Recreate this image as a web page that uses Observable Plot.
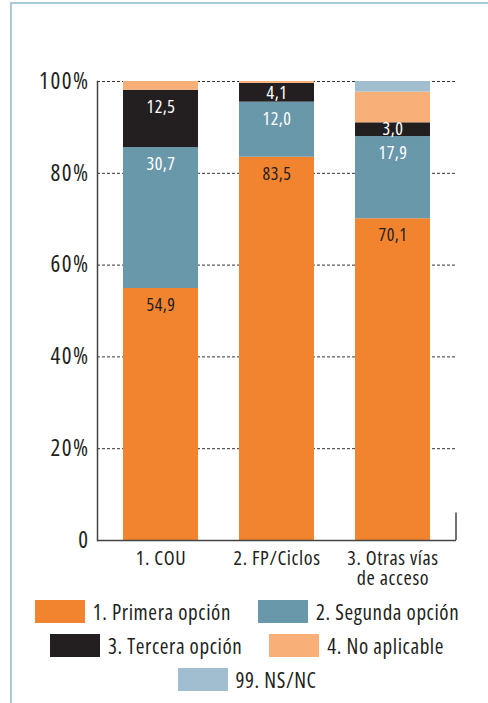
<!DOCTYPE html>
<html>
<head>
<meta charset="utf-8">
<script src="https://cdn.jsdelivr.net/npm/d3@7"></script>
<script src="https://cdn.jsdelivr.net/npm/@observablehq/plot@0.6"></script>
<style>
  html, body { margin: 0; padding: 0; background: #fff; }
  body { width: 488px; height: 703px; overflow: hidden; position: relative;
         font-family: 'Open Sans', sans-serif; font-stretch: 75%; color: #231F20; }
  #frameTop { position: absolute; left: 10px; top: 2px; width: 478px; height: 2px; background: #A9CADA; }
  #frameLeft { position: absolute; left: 10px; top: 2px; width: 2px; height: 701px; background: #A9CADA; }
  #chart { position: absolute; left: 0; top: 0; }
  #legend { position: absolute; left: 6px; top: 600px; width: 482px; display: flex; flex-direction: column; gap: 11px; }
  .row { display: flex; justify-content: center; gap: 27px; height: 23px; align-items: center; }
  .item { display: flex; align-items: center; gap: 8px; font-size: 21px; letter-spacing: 0.6px; white-space: nowrap; font-stretch: 75%; }
  .sw { width: 50px; height: 23px; }
  svg text { font-stretch: 75%; }
  .yax text { letter-spacing: 1.5px; }
  .xax text { letter-spacing: 0.6px; }
  .vals text { letter-spacing: 0.5px; }
</style>
</head>
<body>
<div id="frameTop"></div>
<div id="frameLeft"></div>
<div id="chart"></div>
<div id="legend"></div>
<script>
const categories = ["1. COU", "2. FP/Ciclos", "3. Otras vías de acceso"];
const xTickLabels = ["1. COU", "2. FP/Ciclos", "3. Otras vías\nde acceso"];
const series = ["1. Primera opción", "2. Segunda opción", "3. Tercera opción", "4. No aplicable", "99. NS/NC"];
const colors = ["#F28430", "#6A98AB", "#231F20", "#F9AF78", "#A0BED0"];
const labelColors = ["#231F20", "#ffffff", "#ffffff", null, null];
const primera = [54.9, 83.5, 70.1];
const segunda = [30.7, 12.0, 17.9];
const tercera = [12.5, 4.1, 3.0];
const noAplicable = [1.9, 0.4, 6.7];
const nsnc = [0, 0, 2.3];
const yTicks = [0, 20, 40, 60, 80, 100];
const legendRows = [[0, 1], [2, 3], [4]];

const seriesValues = [primera, segunda, tercera, noAplicable, nsnc];
const rows = [];
const labels = [];
categories.forEach((c, ci) => {
  let cum = 0;
  series.forEach((s, si) => {
    const v = seriesValues[si][ci];
    rows.push({category: c, series: s, value: v});
    cum += v;
    if (labelColors[si]) {
      labels.push({category: c, series: s, value: v, top: cum, y: cum - Math.min(3.7, v / 2), color: labelColors[si]});
    }
  });
});

const font = "'Open Sans', sans-serif";

const rightTick = (index, scales, values, dims) => {
  const x = dims.width - dims.marginRight;
  const ln = document.createElementNS("http://www.w3.org/2000/svg", "line");
  ln.setAttribute("x1", x); ln.setAttribute("x2", x);
  ln.setAttribute("y1", scales.y(0)); ln.setAttribute("y2", scales.y(6));
  ln.setAttribute("stroke", "#444"); ln.setAttribute("stroke-width", 1.5);
  return ln;
};

const plot = Plot.plot({
  width: 488,
  height: 600,
  marginLeft: 97,
  marginRight: 32,
  marginTop: 81,
  marginBottom: 60,
  style: {fontFamily: font, color: "#231F20", background: "transparent", overflow: "visible"},
  x: {domain: categories, paddingInner: 0.35, paddingOuter: 0.21, label: null},
  y: {domain: [0, 100], label: null},
  color: {domain: series, range: colors},
  marks: [
    Plot.ruleY(yTicks.filter(d => d > 0), {stroke: "#333", strokeWidth: 1, strokeDasharray: "3,2"}),
    Plot.barY(rows, {x: "category", y: "value", fill: "series", order: series}),
    Plot.text(labels, {x: "category", y: "y", text: d => d.value.toFixed(1).replace(".", ","), fill: "color", fontSize: 18, fontFamily: font, className: "vals"}),
    Plot.ruleY([0], {stroke: "#444", strokeWidth: 1.5}),
    Plot.frame({anchor: "left", stroke: "#444", strokeWidth: 1.5}),
    rightTick,
    Plot.axisY({ticks: yTicks, tickFormat: d => d === 0 ? "0" : d + "%", tickSize: 0, tickPadding: 8, fontSize: 23, label: null, className: "yax"}),
    Plot.axisX({tickFormat: (d, i) => xTickLabels[categories.indexOf(d)], tickSize: 0, tickPadding: 11, fontSize: 20, label: null, lineHeight: 0.98, className: "xax"})
  ]
});
document.getElementById("chart").appendChild(plot);

const legend = document.getElementById("legend");
legendRows.forEach(r => {
  const row = document.createElement("div");
  row.className = "row";
  r.forEach(i => {
    const item = document.createElement("div");
    item.className = "item";
    const sw = document.createElement("div");
    sw.className = "sw";
    sw.style.background = colors[i];
    const t = document.createElement("span");
    t.textContent = series[i];
    item.appendChild(sw); item.appendChild(t);
    row.appendChild(item);
  });
  legend.appendChild(row);
});
</script>
</body>
</html>
